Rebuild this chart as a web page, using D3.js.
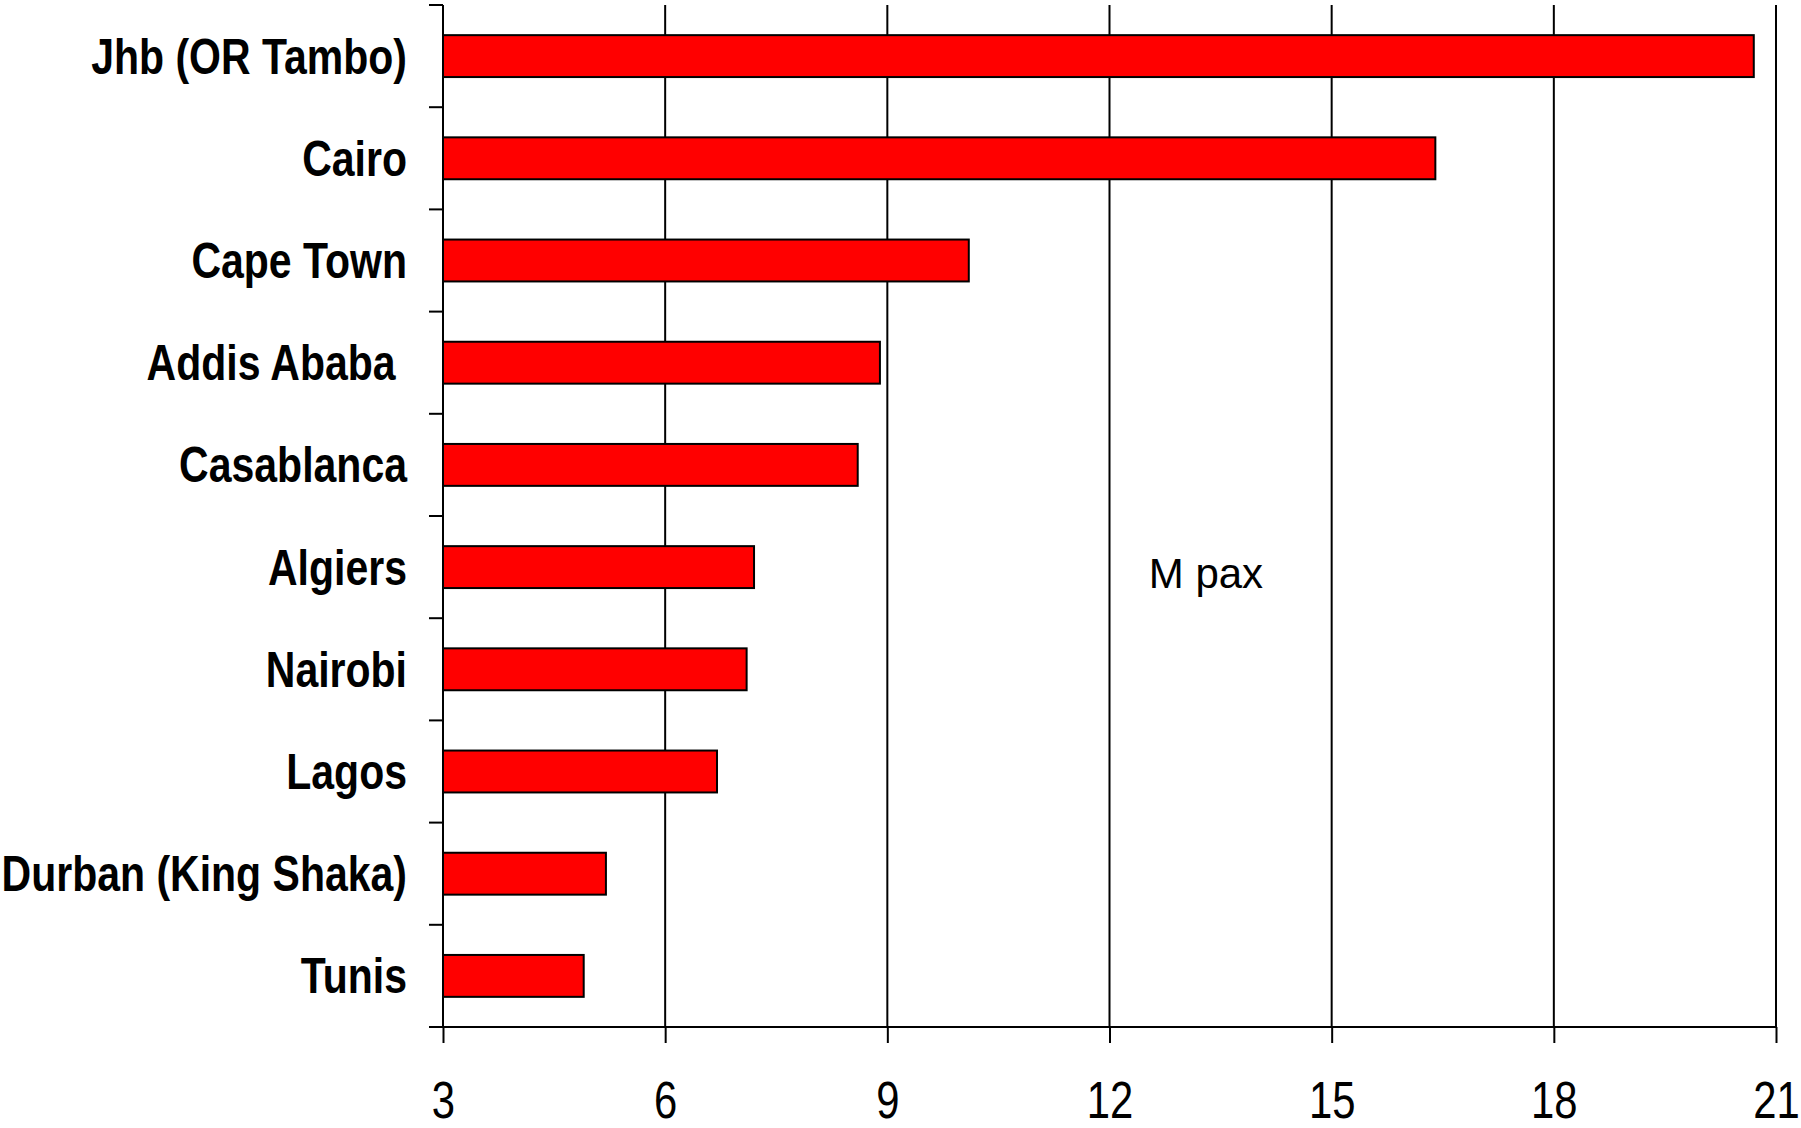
<!DOCTYPE html>
<html>
<head>
<meta charset="utf-8">
<script src="https://cdn.jsdelivr.net/npm/d3@7"></script>
<style>
  html, body { margin: 0; padding: 0; background: #fff; }
  svg { display: block; }
</style>
</head>
<body>
<svg id="chart" width="1801" height="1128"></svg>
<script>
const categories = ["Jhb (OR Tambo)", "Cairo", "Cape Town", "Addis Ababa ", "Casablanca", "Algiers", "Nairobi", "Lagos", "Durban (King Shaka)", "Tunis"];
const values = [20.7, 16.4, 10.1, 8.9, 8.6, 7.2, 7.1, 6.7, 5.2, 4.9];
const xTicks = [3, 6, 9, 12, 15, 18, 21];
const unitLabel = "M pax";

(function () {
const svg = d3.select("#chart");
const pLeft = 443, pRight = 1776, pTop = 5, pBottom = 1027;
const squeeze = 0.82;

const x = d3.scaleLinear().domain([3, 21]).range([pLeft, pRight]);
const y = d3.scaleBand().domain(categories).range([pTop, pBottom]).paddingInner(0.59).paddingOuter(0.295);
const yb = d3.scaleBand().domain(categories).range([pTop, pBottom]).padding(0);

const font = "'Liberation Sans', Arial, sans-serif";

// gridlines
svg.append("g").selectAll("line").data(xTicks.slice(1)).join("line")
  .attr("x1", d => x(d)).attr("x2", d => x(d))
  .attr("y1", pTop).attr("y2", pBottom)
  .attr("stroke", "#000").attr("stroke-width", 2);

// bars
svg.append("g").selectAll("rect").data(categories).join("rect")
  .attr("x", x(3))
  .attr("y", d => y(d))
  .attr("width", (d, i) => x(values[i]) - x(3))
  .attr("height", y.bandwidth())
  .attr("fill", "#ff0000")
  .attr("stroke", "#000").attr("stroke-width", 2);

// x axis
const xAxis = svg.append("g").attr("transform", `translate(0,${pBottom})`)
  .call(d3.axisBottom(x).tickValues(xTicks).tickSize(16).tickPadding(39).tickFormat(d3.format("d")));
xAxis.select(".domain").remove();
xAxis.selectAll(".tick line").attr("stroke", "#000").attr("stroke-width", 2);
xAxis.selectAll(".tick text").attr("font-family", font).attr("font-size", 51).attr("fill", "#000")
  .attr("transform", `scale(${squeeze},1)`);
svg.append("line").attr("x1", pLeft - 14).attr("x2", pRight).attr("y1", pBottom).attr("y2", pBottom)
  .attr("stroke", "#000").attr("stroke-width", 2);

// y axis
svg.append("line").attr("x1", pLeft).attr("x2", pLeft).attr("y1", pTop).attr("y2", pBottom)
  .attr("stroke", "#000").attr("stroke-width", 2);
svg.append("g").selectAll("line").data(categories).join("line")
  .attr("x1", pLeft - 14).attr("x2", pLeft)
  .attr("y1", d => yb(d)).attr("y2", d => yb(d))
  .attr("stroke", "#000").attr("stroke-width", 2);

const yAxis = svg.append("g").attr("transform", `translate(${pLeft},0)`)
  .call(d3.axisLeft(y).tickSize(0).tickPadding(36));
yAxis.select(".domain").remove();
yAxis.selectAll(".tick text")
  .attr("font-family", font).attr("font-weight", "bold").attr("font-size", 50)
  .attr("fill", "#000").attr("dy", "0.35em").style("white-space", "pre")
  .attr("x", -36 / squeeze)
  .attr("transform", `scale(${squeeze},1)`);

// unit label
svg.append("text").attr("x", x(12.53)).attr("y", 588)
  .attr("font-family", font).attr("font-size", 42)
  .attr("fill", "#000").text(unitLabel);
})();
</script>
</body>
</html>
